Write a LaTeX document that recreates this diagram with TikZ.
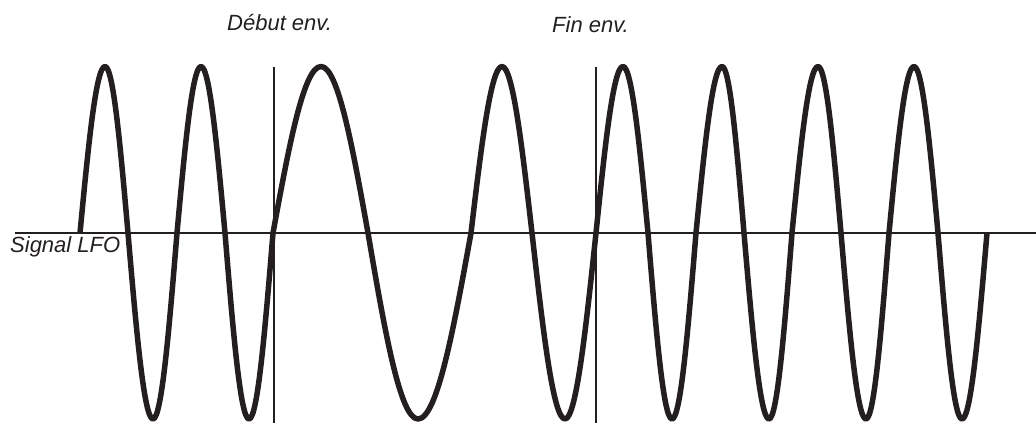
\documentclass[tikz,border=0pt]{standalone}
\usepackage{fontspec}
\setmainfont{Liberation Sans}
\definecolor{ink}{HTML}{231F20}
\begin{document}
\begin{tikzpicture}[x=1pt,y=-1pt,
  wave/.style={draw=ink,line width=5.5pt,line join=round},
  axisline/.style={draw=ink,line width=2.4pt},
  marker/.style={draw=ink,line width=2pt},
  lbl/.style={font=\fontsize{22}{25}\selectfont\itshape,text=ink,inner sep=0pt,anchor=base west}]
\useasboundingbox (0,0) rectangle (1036,423);
% axis
\coordinate (axL) at (15,233);
\coordinate (axR) at (1036,233);
\draw[axisline] (axL) -- (axR);
% envelope markers
\coordinate (dTop) at (274,67);
\coordinate (dBot) at (274,423);
\coordinate (fTop) at (596,67);
\coordinate (fBot) at (596,423);
\draw[marker] (dTop) -- (dBot);
\draw[marker] (fTop) -- (fBot);
% labels
\node[lbl] (debut) at (227,30) {Début env.};
\node[lbl] (fin) at (552,32) {Fin env.};
\node[lbl] (sig) at (10,252) {Signal LFO};
% LFO wave
\draw[wave] (80,233) sin (105,66.5) cos (128,233) sin (153,419) cos (177,233)
  sin (201,66.5) cos (225,233) sin (249,419) cos (273,233)
  sin (321,66.5) cos (368,233) sin (418,419) cos (471,233)
  sin (502,66.5) cos (532,233) sin (565,419) cos (596,233)
  sin (623,66.5) cos (648,233) sin (672,419) cos (696,233)
  sin (722,66.5) cos (744,233) sin (769,419) cos (792,233)
  sin (818,66.5) cos (841,233) sin (866,419) cos (889,233)
  sin (914,66.5) cos (938,233) sin (962,419) cos (987,233);
\end{tikzpicture}
\end{document}
